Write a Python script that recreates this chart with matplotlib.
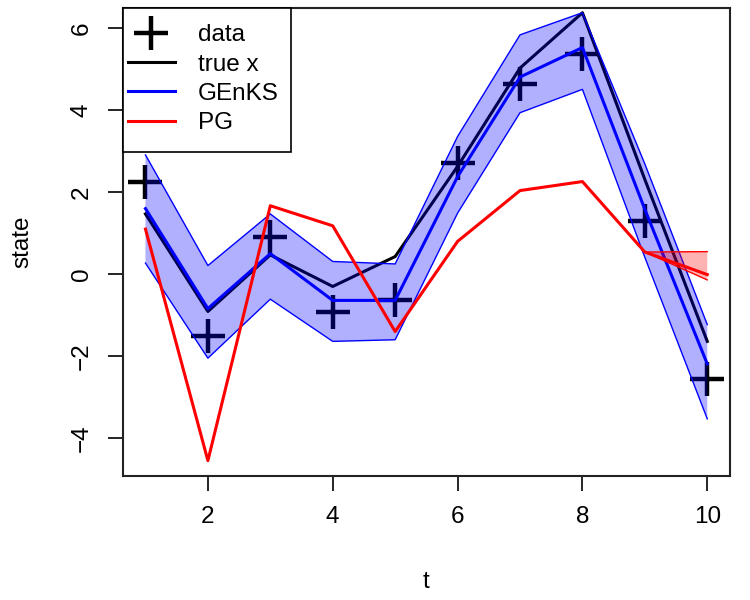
import matplotlib
matplotlib.use("Agg")
import matplotlib.pyplot as plt
from matplotlib.lines import Line2D
from matplotlib.patches import Rectangle

plt.rcParams['font.family'] = ['Liberation Sans', 'DejaVu Sans']

t = [1, 2, 3, 4, 5, 6, 7, 8, 9, 10]
obs = [2.25, -1.53, 0.89, -0.94, -0.63, 2.70, 4.63, 5.36, 1.29, -2.57]
true_x = [1.46, -0.92, 0.46, -0.31, 0.42, 2.62, 5.02, 6.37, 2.30, -1.65]
genks_mean = [1.59, -0.85, 0.49, -0.65, -0.65, 2.37, 4.80, 5.52, 1.57, -2.20]
genks_lo = [0.26, -2.06, -0.62, -1.65, -1.61, 1.48, 3.93, 4.50, 0.40, -3.54]
genks_hi = [2.90, 0.20, 1.46, 0.30, 0.24, 3.35, 5.83, 6.37, 2.68, -1.24]
pg_mean = [1.09, -4.56, 1.66, 1.17, -1.41, 0.79, 2.03, 2.25, 0.53, -0.02]
pg_lo = [1.09, -4.56, 1.66, 1.17, -1.41, 0.79, 2.03, 2.25, 0.53, -0.15]
pg_hi = [1.09, -4.56, 1.66, 1.17, -1.41, 0.79, 2.03, 2.25, 0.53, 0.54]

xticks = [2, 4, 6, 8, 10]
yticks = [-4, -2, 0, 2, 4, 6]
labels = ['data', 'true x', 'GEnKS', 'PG']

fig = plt.figure(figsize=(7.5, 6), dpi=100)
ax = fig.add_axes([0.164, 0.207, 0.809, 0.780])

fs = 17.5
# data crosses
ax.plot(t, obs, linestyle='none', marker='+', markersize=24, markeredgewidth=3.2,
        color='black', zorder=2)
# true x
ax.plot(t, true_x, color='black', lw=2.2, zorder=3)
# GEnKS band (drawn over data, alpha)
ax.fill_between(t, genks_lo, genks_hi, facecolor=(0, 0, 1, 0.31), edgecolor='none', zorder=4)
ax.plot(t, genks_lo, color='blue', lw=1, zorder=5)
ax.plot(t, genks_hi, color='blue', lw=1, zorder=5)
ax.plot(t, genks_mean, color='blue', lw=2.2, zorder=6)
# PG band
ax.fill_between(t, pg_lo, pg_hi, facecolor=(1, 0, 0, 0.3), edgecolor='none', zorder=7)
ax.plot(t, pg_lo, color='red', lw=1, zorder=8)
ax.plot(t, pg_hi, color='red', lw=1, zorder=8)
ax.plot(t, pg_mean, color='red', lw=2.2, zorder=9)

ax.set_xlim(0.64, 10.36)
ax.set_ylim(-4.93, 6.49)
ax.set_xticks(xticks)
ax.set_yticks(yticks)
ax.set_xticklabels([str(v) for v in xticks], fontsize=fs)
ax.set_yticklabels([str(v).replace('-', '\u2212') for v in yticks], fontsize=fs,
                   rotation=90, va='center')
ax.tick_params(direction='out', length=10.8, width=1.2, pad=11)
for s in ax.spines.values():
    s.set_linewidth(1.5)
    s.set_color('#222222')
ax.set_xlabel('t', fontsize=fs, va='center')
ax.set_ylabel('state', fontsize=fs, va='center')
ax.xaxis.set_label_coords(0.5, -0.2265)
ax.yaxis.set_label_coords(-0.1664, 0.5)

# legend frame
ax.add_patch(Rectangle((0, 0.6923), 0.2768, 0.3077, transform=ax.transAxes,
                       facecolor='white', edgecolor='black', lw=1.2, zorder=19,
                       clip_on=False))
handles = [
    Line2D([], [], linestyle='none', marker='+', markersize=24, markeredgewidth=3.2, color='black'),
    Line2D([], [], color='black', lw=2.2),
    Line2D([], [], color='blue', lw=2.2),
    Line2D([], [], color='red', lw=2.2),
]
leg = ax.legend(handles, labels, loc='upper left', bbox_to_anchor=(0.008, 0.9646),
                fontsize=fs, frameon=False, borderaxespad=0, borderpad=0,
                handlelength=1.93, handletextpad=0.95, labelspacing=0.3)
leg.set_zorder(20)

fig.savefig('out.png', dpi=100)
